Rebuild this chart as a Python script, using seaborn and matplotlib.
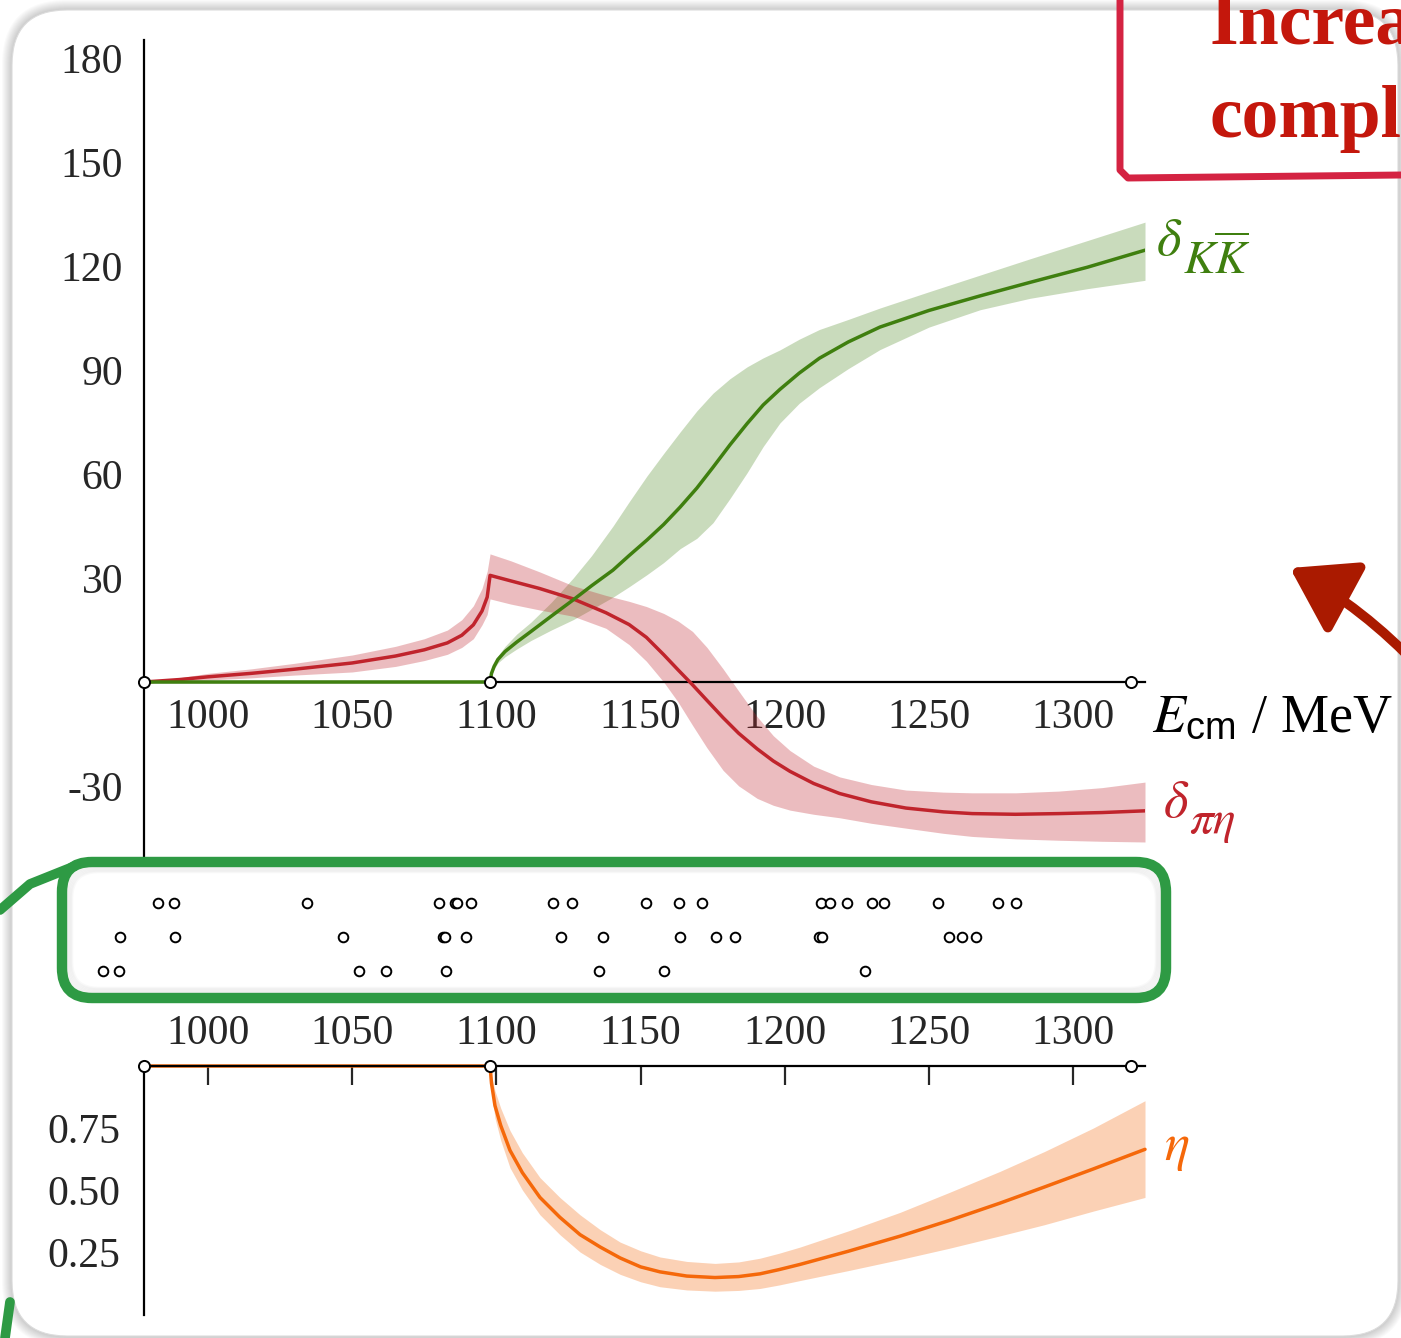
import numpy as np
import pandas as pd
import matplotlib
matplotlib.use("Agg")
import matplotlib.pyplot as plt
import seaborn as sns
from matplotlib.patches import FancyBboxPatch, FancyArrowPatch

# ---------------------------------------------------------------- data
E_PIETA = 977.8      # pi-eta threshold (MeV)
E_KK = 1097.8        # K Kbar threshold (MeV)
E_UP = 1320.0        # upper end of the fitted range
E_MAX = 1324.9

# pi-eta phase shift (degrees) with its uncertainty band
energy_pieta = [977.8, 990, 1000, 1015, 1030, 1050, 1065, 1075, 1083, 1088, 1092,
                1095, 1096.8, 1097.8, 1105, 1115, 1126.6, 1138, 1146, 1152, 1158,
                1163, 1168, 1173, 1178.6, 1184, 1190.4, 1196, 1201.8, 1210, 1219,
                1230, 1242, 1255, 1265, 1280, 1295, 1310, 1324.9]
delta_pieta = [0, 0.7, 1.5, 2.5, 3.7, 5.5, 7.5, 9.3, 11.3, 13.5, 16.5,
               20.5, 24.5, 30.8, 29.2, 27.0, 24.0, 20.0, 16.6, 12.9, 7.9,
               3.5, -0.8, -5.3, -10.3, -14.8, -19.3, -22.8, -25.8, -29.3, -32.2,
               -34.6, -36.4, -37.5, -38.0, -38.2, -38.0, -37.7, -37.2]
delta_pieta_lo = [0, 0.3, 0.6, 1.2, 2.0, 2.9, 4.5, 6.2, 8.0, 10.0, 12.5,
                  16.5, 19.5, 24.0, 22.5, 20.8, 19.0, 15.5, 10.8, 6.0, 0.0,
                  -5.8, -12.5, -19.0, -25.5, -30.0, -33.6, -35.6, -37.0, -38.2, -39.2,
                  -40.8, -42.2, -43.7, -44.6, -45.3, -45.7, -46.0, -46.2]
delta_pieta_hi = [0, 1.2, 2.5, 3.8, 5.4, 7.8, 10.3, 12.5, 15.0, 18.0, 22.0,
                  27.0, 32.0, 37.0, 35.0, 31.8, 27.8, 25.0, 23.3, 21.8, 19.8,
                  17.6, 14.6, 10.0, 3.8, -2.6, -10.0, -15.5, -19.8, -24.3, -27.4,
                  -29.6, -31.2, -31.8, -32.0, -32.0, -31.5, -30.5, -28.9]

# K Kbar phase shift (degrees) with its uncertainty band
energy_kk = [977.8, 1097.8, 1098.3, 1099.2, 1100.5, 1103, 1107, 1112, 1119, 1126.6,
             1133, 1140.4, 1146, 1152.2, 1158, 1163.7, 1169.5, 1175.1, 1181, 1186.9,
             1192.5, 1198.3, 1205, 1212, 1222, 1233, 1250, 1267.7, 1285, 1305, 1324.9]
delta_kk = [0, 0, 2.5, 4.5, 6.5, 8.8, 11.5, 14.6, 19.0, 23.7,
            27.8, 32.3, 36.5, 41.0, 45.5, 50.5, 56.0, 62.0, 68.5, 74.6,
            80.0, 84.5, 89.2, 93.5, 98.2, 102.5, 107.3, 111.5, 115.4, 119.8, 124.7]
delta_kk_lo = [0, 0, 2.0, 3.8, 5.5, 7.3, 9.5, 12.0, 15.0, 18.0,
               21.0, 24.5, 27.5, 31.0, 34.5, 38.5, 41.5, 46.0, 53.0, 60.4,
               68.0, 74.8, 80.5, 85.0, 90.5, 96.0, 102.5, 107.5, 110.8, 113.6, 116.0]
delta_kk_hi = [0, 0, 3.0, 5.3, 7.5, 10.3, 13.8, 17.3, 23.0, 30.0,
               36.5, 45.0, 52.0, 59.5, 66.0, 72.2, 78.3, 83.4, 87.6, 91.0,
               93.6, 95.9, 99.0, 101.8, 104.7, 108.0, 112.7, 117.5, 122.2, 127.5, 132.8]

# inelasticity with its uncertainty band
energy_eta = [977.8, 1097.8, 1098.3, 1099.5, 1101.5, 1104.7, 1109, 1115.1, 1122, 1129,
              1136, 1142.9, 1150, 1156.7, 1166, 1175.8, 1184, 1191.4, 1198, 1205.3,
              1222, 1240, 1257, 1274.6, 1290, 1307, 1324.9]
eta = [1, 1, 0.93, 0.84, 0.76, 0.66, 0.57, 0.47, 0.39, 0.32,
       0.27, 0.226, 0.19, 0.17, 0.153, 0.147, 0.151, 0.162, 0.179, 0.20,
       0.253, 0.314, 0.377, 0.447, 0.512, 0.585, 0.664]
eta_lo = [1, 1, 0.90, 0.79, 0.70, 0.59, 0.50, 0.40, 0.32, 0.25,
          0.20, 0.16, 0.13, 0.11, 0.097, 0.092, 0.095, 0.103, 0.117, 0.135,
          0.175, 0.22, 0.265, 0.315, 0.36, 0.415, 0.47]
eta_hi = [1, 1, 0.96, 0.90, 0.83, 0.74, 0.65, 0.55, 0.47, 0.40,
          0.34, 0.29, 0.255, 0.23, 0.212, 0.204, 0.21, 0.225, 0.245, 0.27,
          0.335, 0.41, 0.49, 0.575, 0.655, 0.75, 0.86]

# finite-volume energy levels used in the fit, three rows
levels_row1 = [982.7, 988.1, 1034.3, 1080.2, 1085.5, 1086.4, 1091.1, 1119.6, 1126.2,
               1151.7, 1163.3, 1171.2, 1212.7, 1215.8, 1221.6, 1230.2, 1234.5, 1253.0,
               1273.9, 1280.3]
levels_row2 = [969.5, 988.7, 1046.9, 1081.6, 1082.2, 1089.5, 1122.4, 1137.0, 1163.5,
               1176.1, 1182.8, 1211.9, 1213.0, 1257.0, 1261.4, 1266.2]
levels_row3 = [963.5, 969.1, 1052.5, 1061.7, 1082.4, 1135.7, 1158.0, 1227.7]

energy_ticks = [1000, 1050, 1100, 1150, 1200, 1250, 1300]
phase_ticks = [-30, 30, 60, 90, 120, 150, 180]
eta_ticks = [0.25, 0.50, 0.75]
eta_ticklabels = ["0.25", "0.50", "0.75"]

thresholds = [E_PIETA, E_KK, E_UP]

GREEN = "#3f7f0f"
RED = "#c0242c"
ORANGE = "#f5680a"

# ---------------------------------------------------------------- style
sns.set_style("white")
plt.rcParams["font.family"] = ["Liberation Serif", "DejaVu Serif"]
plt.rcParams["mathtext.fontset"] = "custom"
plt.rcParams["mathtext.rm"] = "STIXGeneral"
plt.rcParams["mathtext.it"] = "STIXGeneral:italic"
plt.rcParams["mathtext.bf"] = "STIXGeneral:bold"
plt.rcParams["mathtext.sf"] = "Liberation Sans"

W, H = 1401, 1338
fig = plt.figure(figsize=(W / 100, H / 100), dpi=100)
fig.patch.set_facecolor("white")


def rect(l, t, r, b):
    return [l / W, 1 - b / H, (r - l) / W, (b - t) / H]


# background slide with a soft shadow
bg = fig.add_axes([0, 0, 1, 1], zorder=0)
bg.set_xlim(0, W)
bg.set_ylim(H, 0)
bg.axis("off")
for i in range(10, 0, -1):
    bg.add_patch(FancyBboxPatch((12 - i, 10 - i), 1386 + 2 * i, 1326 + 2 * i,
                                boxstyle=f"round,pad=0,rounding_size={55 + i}",
                                fc="#000000", ec="none", alpha=0.018))
bg.add_patch(FancyBboxPatch((12, 10), 1386, 1326,
                            boxstyle="round,pad=0,rounding_size=55",
                            fc="white", ec="#dcdcdc", lw=0.8))

TICK_FONT = 30
LW_AX = 1.6
LW_CURVE = 2.5


def curve_label(axis, x, y, main, sub, color, dx, dy):
    """Symbol with a large subscript, placed right of a curve end."""
    axis.annotate(main, xy=(x, y), xytext=(dx, dy), textcoords="offset points",
                  color=color, fontsize=38, ha="left", va="center",
                  annotation_clip=False)
    axis.annotate(sub, xy=(x, y), xytext=(dx + 19, dy - 14),
                  textcoords="offset points", color=color, fontsize=34,
                  ha="left", va="center", annotation_clip=False)


# ---------------------------------------------------------------- phase shifts
ax = fig.add_axes(rect(144, 40, 1145, 860), zorder=2)
ax.patch.set_alpha(0)
ax.set_xlim(E_PIETA, E_MAX)
ax.set_ylim(-51.4, 185.4)

ax.fill_between(energy_kk, delta_kk_lo, delta_kk_hi, color=GREEN, alpha=0.28, lw=0)
ax.fill_between(energy_pieta, delta_pieta_lo, delta_pieta_hi, color=RED, alpha=0.3, lw=0)
df_kk = pd.DataFrame({"E": energy_kk, "delta": delta_kk})
df_pe = pd.DataFrame({"E": energy_pieta, "delta": delta_pieta})
sns.lineplot(data=df_pe, x="E", y="delta", ax=ax, color=RED, lw=LW_CURVE,
             estimator=None, sort=False, zorder=4)
sns.lineplot(data=df_kk, x="E", y="delta", ax=ax, color=GREEN, lw=LW_CURVE,
             estimator=None, sort=False, zorder=5)

for s in ("top", "right"):
    ax.spines[s].set_visible(False)
ax.spines["bottom"].set_position(("data", 0))
for s in ("bottom", "left"):
    ax.spines[s].set_linewidth(LW_AX)
    ax.spines[s].set_color("black")
ax.set_xticks(energy_ticks)
ax.set_xticklabels([str(t) for t in energy_ticks])
ax.set_yticks(phase_ticks)
ax.set_yticklabels([str(t) for t in phase_ticks])
ax.tick_params(axis="x", direction="in", length=14, width=LW_AX, pad=12,
               labelsize=TICK_FONT)
ax.tick_params(axis="y", direction="in", length=13, width=LW_AX, pad=15,
               labelsize=TICK_FONT)
ax.set_xlabel("")
ax.set_ylabel("")
ax.plot(thresholds, [0, 0, 0], ls="none", marker="o", ms=8, mfc="white",
        mec="black", mew=1.4, clip_on=False, zorder=6)

curve_label(ax, E_MAX, delta_kk[-1], r"$\delta$", r"$K\overline{K}$", GREEN, 8, 6)
curve_label(ax, E_MAX, delta_pieta[-1], r"$\delta$", r"$\pi\eta$", RED, 13, 5)
ax.annotate(r"$E_{\mathsf{cm}}$ / MeV", xy=(E_MAX, 0), xytext=(5, -26),
            textcoords="offset points", color="black", fontsize=39,
            ha="left", va="center", annotation_clip=False)

# ---------------------------------------------------------------- energy levels
axd = fig.add_axes(rect(144, 880, 1145, 995), zorder=2)
axd.patch.set_alpha(0)
axd.set_xlim(E_PIETA, E_MAX)
axd.set_ylim(3.706, 0.324)
axd.axis("off")
levels = pd.DataFrame({
    "E": levels_row1 + levels_row2 + levels_row3,
    "row": [1] * len(levels_row1) + [2] * len(levels_row2) + [3] * len(levels_row3),
})
sns.scatterplot(data=levels, x="E", y="row", ax=axd, marker="o", s=48,
                color="white", edgecolor="black", linewidth=1.4, clip_on=False,
                legend=False)

# ---------------------------------------------------------------- inelasticity
axe = fig.add_axes(rect(144, 1066, 1145, 1315), zorder=2)
axe.patch.set_alpha(0)
axe.set_xlim(E_PIETA, E_MAX)
axe.set_ylim(-0.004, 1.0)
axe.fill_between(energy_eta[1:], eta_lo[1:], eta_hi[1:], color=ORANGE, alpha=0.3, lw=0)
df_eta = pd.DataFrame({"E": energy_eta, "eta": eta})
sns.lineplot(data=df_eta, x="E", y="eta", ax=axe, color=ORANGE, lw=LW_CURVE,
             estimator=None, sort=False, zorder=1.5, clip_on=False)
for s in ("bottom", "right"):
    axe.spines[s].set_visible(False)
for s in ("top", "left"):
    axe.spines[s].set_linewidth(LW_AX)
    axe.spines[s].set_color("black")
    axe.spines[s].set_zorder(3)
axe.xaxis.tick_top()
axe.set_xticks(energy_ticks)
axe.set_xticklabels([str(t) for t in energy_ticks])
axe.set_yticks(eta_ticks)
axe.set_yticklabels(eta_ticklabels)
axe.tick_params(axis="x", direction="in", length=14, width=LW_AX, pad=9,
                labelsize=TICK_FONT)
axe.tick_params(axis="y", direction="in", length=13, width=LW_AX, pad=17,
                labelsize=TICK_FONT)
axe.set_xlabel("")
axe.set_ylabel("")
axe.plot(thresholds, [1, 1, 1], ls="none", marker="o", ms=8, mfc="white",
         mec="black", mew=1.4, clip_on=False, zorder=6)
axe.annotate(r"$\eta$", xy=(E_MAX, eta[-1]), xytext=(14, 0),
             textcoords="offset points", color=ORANGE, fontsize=38,
             ha="left", va="center", annotation_clip=False)

# ---------------------------------------------------------------- overlay marks
ov = fig.add_axes([0, 0, 1, 1], zorder=10)
ov.set_xlim(0, W)
ov.set_ylim(H, 0)
ov.axis("off")
ov.patch.set_alpha(0)

# green frame round the energy levels
for i in range(6, 0, -1):
    ov.add_patch(FancyBboxPatch((66 + i, 866 + i), 1096 - 2 * i, 128 - 2 * i,
                                boxstyle="round,pad=0,rounding_size=26",
                                fc="none", ec="#000000", lw=2, alpha=0.025))
ov.add_patch(FancyBboxPatch((62, 862), 1104, 136,
                            boxstyle="round,pad=0,rounding_size=30",
                            fc="none", ec="#2e9a44", lw=7.5, joinstyle="round"))
ov.plot([0, 30, 75], [910, 884, 866], color="#2e9a44", lw=7, solid_capstyle="round")
ov.plot([5, 10], [1338, 1302], color="#2e9a44", lw=7, solid_capstyle="round")

# red frame and heading at the top right
ov.plot([1120, 1120, 1128, 1401], [0, 170, 178, 175], color="#d42342", lw=5,
        solid_joinstyle="round", solid_capstyle="round")
ov.text(1210, 43, "Increa", color="#c4170c", fontsize=53, fontweight="bold",
        family=["Liberation Serif", "DejaVu Serif"], ha="left", va="baseline")
ov.text(1210, 137, "compl", color="#c4170c", fontsize=53, fontweight="bold",
        family=["Liberation Serif", "DejaVu Serif"], ha="left", va="baseline")

# red arrow pointing at the curves
ov.add_patch(FancyArrowPatch((1420, 668), (1290, 568),
                             arrowstyle="-|>,head_length=1.0,head_width=0.65",
                             mutation_scale=38, lw=7, color="#aa1a00",
                             connectionstyle="arc3,rad=0.08",
                             shrinkA=0, shrinkB=0))

fig.savefig("out.png", dpi=100)
